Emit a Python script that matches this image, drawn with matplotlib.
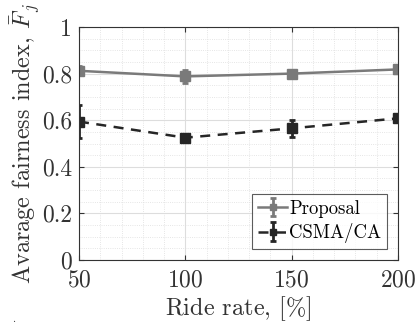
import matplotlib
matplotlib.use("Agg")
import matplotlib.pyplot as plt
import numpy as np

plt.rcParams['font.family'] = 'serif'
plt.rcParams['font.serif'] = ['cmr10', 'DejaVu Serif']
plt.rcParams['mathtext.fontset'] = 'cm'
plt.rcParams['axes.formatter.use_mathtext'] = True

ride_rate = [50, 100, 150, 200]
proposal = [0.812, 0.788, 0.800, 0.818]
proposal_err = [0.020, 0.027, 0.015, 0.010]
csma = [0.594, 0.525, 0.565, 0.608]
csma_err = [0.070, 0.015, 0.035, 0.010]

fig = plt.figure(figsize=(4.19, 3.23), dpi=100)
ax = fig.add_axes([79/419, 63/323, 319/419, 233/323])

ax.errorbar(ride_rate, proposal, yerr=proposal_err, color='#7a7a7a', lw=1.8,
            marker='s', ms=7, capsize=2.5, elinewidth=2, capthick=2, label='Proposal')
ax.errorbar(ride_rate, csma, yerr=csma_err, color='#262626', lw=1.8, ls='--',
            dashes=(4, 3), marker='s', ms=7, capsize=2.5, elinewidth=2,
            capthick=2, label='CSMA/CA')

ax.set_xlim(50, 200)
ax.set_ylim(0, 1)
ax.set_xticks([50, 100, 150, 200])
ax.set_yticks([0, 0.2, 0.4, 0.6, 0.8, 1])
ax.set_yticklabels(['0', '0.2', '0.4', '0.6', '0.8', '1'])
ax.set_xticks(np.arange(50, 201, 10), minor=True)
ax.set_yticks(np.arange(0, 1.001, 0.05), minor=True)
ax.grid(which='major', color='#dddddd', lw=0.8, ls='-')
ax.grid(which='minor', color='#dddddd', lw=0.6, ls=':')
ax.tick_params(which='both', direction='in', top=True, right=True, labelsize=17,
               color='#333333', labelcolor='#333333')
ax.tick_params(axis='x', pad=7)
ax.tick_params(axis='y', pad=5)
ax.tick_params(which='minor', length=0)
for s in ax.spines.values():
    s.set_color('#333333')

ax.set_xlabel(r'Ride rate, $[\%]$', fontsize=17.5, color='#333333', labelpad=2)
ax.set_ylabel(r'Avarage fairness index, $\bar{F}_j$', fontsize=17.5, color='#333333',
              labelpad=0)

leg = ax.legend(loc='lower right', fontsize=13.5, fancybox=False, edgecolor='#333333',
                handlelength=1.55, handletextpad=0.1, borderpad=0.3, labelspacing=0.3,
                borderaxespad=0.6, markerscale=0.7)
leg.get_frame().set_linewidth(0.8)

fig.text(0.028, 0.003, '.', fontsize=8, color='#333333')

fig.savefig('out.png', dpi=100)
